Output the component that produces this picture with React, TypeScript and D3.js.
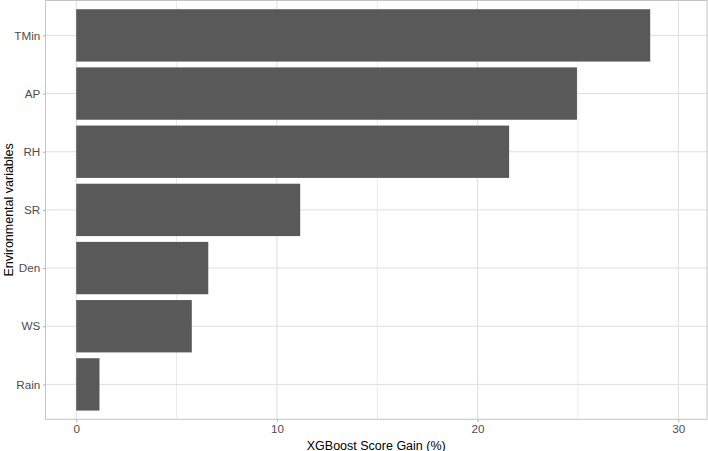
import * as d3 from "d3";
import React, { useEffect, useRef } from "react";

// variables, top to bottom as drawn
const variables = ["TMin", "AP", "RH", "SR", "Den", "WS", "Rain"];
const gains = [28.6, 24.95, 21.57, 11.16, 6.58, 5.76, 1.16];
const majorTicks = [0, 10, 20, 30];
const minorTicks = [5, 15, 25];

const WIDTH = 708;
const HEIGHT = 451;

function GainChart() {
    const svgRef = useRef<SVGSVGElement>(null);

    useEffect(() => {
        const svg = d3.select(svgRef.current);
        svg.selectAll("*").remove();

        const panel = { left: 45.5, right: 707, top: 0.5, bottom: 419.3 };
        const font = "'Liberation Sans', Arial, sans-serif";

        const x = d3
            .scaleLinear()
            .domain([-1.53, 31.43])
            .range([panel.left, panel.right]);

        const y = d3
            .scalePoint<string>()
            .domain(variables)
            .range([panel.top, panel.bottom])
            .padding(0.6);

        const barH = y.step() * 0.9;

        // background
        svg.append("rect")
            .attr("x", panel.left)
            .attr("y", panel.top)
            .attr("width", panel.right - panel.left)
            .attr("height", panel.bottom - panel.top)
            .attr("fill", "white");

        // minor grid
        svg.append("g")
            .selectAll("line")
            .data(minorTicks)
            .join("line")
            .attr("x1", (d) => x(d))
            .attr("x2", (d) => x(d))
            .attr("y1", panel.top)
            .attr("y2", panel.bottom)
            .attr("stroke", "#ebebeb")
            .attr("stroke-width", 1);

        // major grid
        svg.append("g")
            .selectAll("line")
            .data(majorTicks)
            .join("line")
            .attr("x1", (d) => x(d))
            .attr("x2", (d) => x(d))
            .attr("y1", panel.top)
            .attr("y2", panel.bottom)
            .attr("stroke", "#dedede")
            .attr("stroke-width", 1);

        svg.append("g")
            .selectAll("line")
            .data(variables)
            .join("line")
            .attr("x1", panel.left)
            .attr("x2", panel.right)
            .attr("y1", (d) => y(d)!)
            .attr("y2", (d) => y(d)!)
            .attr("stroke", "#dedede")
            .attr("stroke-width", 1);

        // bars
        svg.append("g")
            .selectAll("rect")
            .data(variables)
            .join("rect")
            .attr("x", x(0))
            .attr("y", (d) => y(d)! - barH / 2)
            .attr("width", (d, i) => x(gains[i]) - x(0))
            .attr("height", barH)
            .attr("fill", "#595959");

        // panel border
        svg.append("rect")
            .attr("x", panel.left)
            .attr("y", panel.top)
            .attr("width", panel.right - panel.left)
            .attr("height", panel.bottom - panel.top)
            .attr("fill", "none")
            .attr("stroke", "#c4c4c4")
            .attr("stroke-width", 1);

        // x axis
        const xAxis = svg
            .append("g")
            .attr("transform", `translate(0,${panel.bottom})`)
            .call(d3.axisBottom(x).tickValues(majorTicks).tickSize(2.7).tickPadding(3));
        xAxis.select(".domain").remove();
        xAxis.selectAll("line").attr("stroke", "#b3b3b3");
        xAxis.selectAll("text")
            .attr("fill", "#4d4d4d")
            .attr("font-family", font)
            .attr("font-size", "11.7px");

        // y axis
        const yAxis = svg
            .append("g")
            .attr("transform", `translate(${panel.left},0)`)
            .call(d3.axisLeft(y).tickSize(2.7).tickPadding(2.5));
        yAxis.select(".domain").remove();
        yAxis.selectAll("line").attr("stroke", "#b3b3b3");
        yAxis.selectAll("text")
            .attr("fill", "#4d4d4d")
            .attr("font-family", font)
            .attr("font-size", "11.7px");

        // titles
        svg.append("text")
            .attr("x", (panel.left + panel.right) / 2)
            .attr("y", 449.5)
            .attr("text-anchor", "middle")
            .attr("font-family", font)
            .attr("font-size", "12.5px")
            .attr("fill", "#000")
            .text("XGBoost Score Gain (%)");

        svg.append("text")
            .attr("transform", `translate(12.5,${(panel.top + panel.bottom) / 2}) rotate(-90)`)
            .attr("text-anchor", "middle")
            .attr("font-family", font)
            .attr("font-size", "12.5px")
            .attr("fill", "#000")
            .text("Environmental variables");
    }, []);

    return (
        <svg
            ref={svgRef}
            width={WIDTH}
            height={HEIGHT}
            style={{ position: "absolute", left: 0, top: 0, background: "white" }}
        ></svg>
    );
}

export default function App() {
    return <GainChart />;
}
